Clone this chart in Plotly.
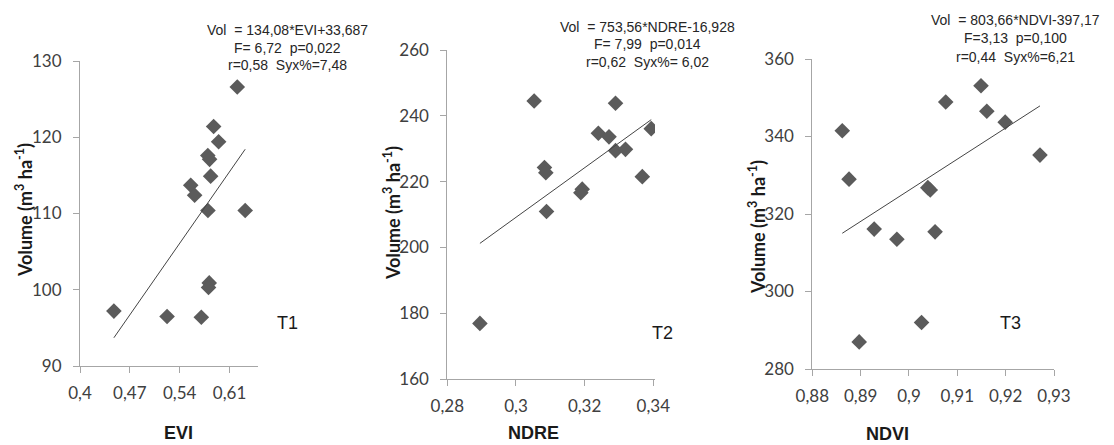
import plotly.graph_objects as go

# ---- Data ----
evi = [0.6209, 0.5877, 0.5947, 0.5795, 0.5820, 0.5835, 0.5555, 0.5610, 0.5797,
       0.6320, 0.5815, 0.5805, 0.4476, 0.5223, 0.5704]
vol_t1 = [126.6, 121.4, 119.4, 117.6, 117.1, 114.9, 113.7, 112.4, 110.4,
          110.4, 100.9, 100.3, 97.2, 96.5, 96.4]

ndre = [0.3053, 0.3290, 0.3240, 0.3271, 0.3290, 0.3319, 0.3394, 0.3368, 0.3083,
        0.3087, 0.3193, 0.3189, 0.3089, 0.2895]
vol_t2 = [244.5, 243.8, 234.7, 233.6, 229.4, 229.8, 236.1, 221.5, 224.3,
          222.7, 217.7, 216.6, 210.9, 176.9]

ndvi = [0.8862, 0.8876, 0.8928, 0.8975, 0.9054, 0.9039, 0.9044, 0.9076, 0.9149,
        0.9161, 0.9199, 0.9271, 0.9026, 0.8897]
vol_t3 = [341.5, 329.0, 316.1, 313.5, 315.4, 326.8, 326.2, 348.9, 353.1,
          346.5, 343.7, 335.2, 292.0, 287.0]

# regression coefficients (slope, intercept) as printed in the chart
coef_t1 = (134.08, 33.687)
coef_t2 = (753.56, -16.928)
coef_t3 = (803.66, -397.17)

x_ticks_t1 = [0.4, 0.47, 0.54, 0.61]
y_ticks_t1 = [90, 100, 110, 120, 130]
x_ticks_t2 = [0.28, 0.30, 0.32, 0.34]
y_ticks_t2 = [160, 180, 200, 220, 240, 260]
x_ticks_t3 = [0.88, 0.89, 0.90, 0.91, 0.92, 0.93]
y_ticks_t3 = [280, 300, 320, 340, 360]

eq_t1 = ["Vol  = 134,08*EVI+33,687", "F= 6,72  p=0,022", "r=0,58  Syx%=7,48"]
eq_t2 = ["Vol  = 753,56*NDRE-16,928", "F= 7,99  p=0,014", "r=0,62  Syx%= 6,02"]
eq_t3 = ["Vol  = 803,66*NDVI-397,17", "F=3,13  p=0,100", "r=0,44  Syx%=6,21"]

W, H = 1114, 445


def fmt(v):
    return f"{v:g}".replace(".", ",")


fig = go.Figure()

panels = [
    (evi, vol_t1, coef_t1, "x", "y"),
    (ndre, vol_t2, coef_t2, "x2", "y2"),
    (ndvi, vol_t3, coef_t3, "x3", "y3"),
]
for xs, ys, (a, b), xa, ya in panels:
    fig.add_trace(go.Scatter(
        x=xs, y=ys, mode="markers", xaxis=xa, yaxis=ya,
        marker=dict(symbol="diamond", size=12, color="#5b5b5b", line=dict(width=0)),
        showlegend=False, hoverinfo="x+y"))
    x0, x1 = min(xs), max(xs)
    fig.add_trace(go.Scatter(
        x=[x0, x1], y=[a * x0 + b, a * x1 + b], mode="lines", xaxis=xa, yaxis=ya,
        line=dict(color="#444444", width=1), showlegend=False, hoverinfo="skip"))

axis_common = dict(showgrid=False, zeroline=False, showline=True, linecolor="#a6a6a6",
                   linewidth=1, ticks="outside", tickcolor="#a6a6a6", ticklen=6,
                   automargin=False,
                   tickfont=dict(family="Lato", size=17, color="#404040"))


def px_dom(a, b, total):
    return [a / total, b / total]


layout_axes = {}
# panel geometry in pixels: (left, right, top, bottom)
geo = [(80, 258, 61, 366), (447.3, 655, 50, 379), (812.3, 1054, 59, 369)]
xranges = [[0.4, 0.65], [0.28, 0.3405], [0.88, 0.93]]
yranges = [[90, 130], [160, 260], [280, 360]]
xticks = [x_ticks_t1, x_ticks_t2, x_ticks_t3]
yticks = [y_ticks_t1, y_ticks_t2, y_ticks_t3]
for i, ((l, r, t, btm), xr, yr, xt, yt) in enumerate(zip(geo, xranges, yranges, xticks, yticks)):
    sfx = "" if i == 0 else str(i + 1)
    layout_axes["xaxis" + sfx] = dict(axis_common, domain=px_dom(l, r, W), range=xr,
                                      tickvals=xt, ticktext=[fmt(v) for v in xt],
                                      anchor="y" + sfx, ticklabelstandoff=6)
    layout_axes["yaxis" + sfx] = dict(axis_common, domain=[(H - btm) / H, (H - t) / H], range=yr,
                                      tickvals=yt, ticktext=[fmt(v) for v in yt],
                                      anchor="x" + sfx, ticklabelstandoff=8)

fig.update_layout(**layout_axes)

ann = []
# equations
for lines, cx, ys in [(eq_t1, 287, [30, 48, 65]), (eq_t2, 647, [27, 44, 62]), (eq_t3, 1015, [20, 38, 57])]:
    for txt, yy in zip(lines, ys):
        ann.append(dict(text=txt, x=cx / W, y=1 - yy / H, xref="paper", yref="paper",
                        showarrow=False, xanchor="center", yanchor="middle",
                        font=dict(family="Liberation Sans", size=14, color="#262626")))
# panel labels
for txt, cx, cy in [("T1", 287, 323), ("T2", 662, 333), ("T3", 1010, 323)]:
    ann.append(dict(text=txt, x=cx / W, y=1 - cy / H, xref="paper", yref="paper",
                    showarrow=False, xanchor="center", yanchor="middle",
                    font=dict(family="Liberation Sans", size=18, color="#1a1a1a")))
# x titles
for txt, cx, cy in [("EVI", 178, 433), ("NDRE", 533, 433), ("NDVI", 887, 434)]:
    ann.append(dict(text="<b>" + txt + "</b>", x=cx / W, y=1 - cy / H, xref="paper", yref="paper",
                    showarrow=False, xanchor="center", yanchor="middle",
                    font=dict(family="Liberation Sans", size=18, color="#1a1a1a")))
# y titles
for cx, cy in [(24, 210), (392, 213), (757, 227)]:
    ann.append(dict(text="<b>Volume (m<sup>3</sup> ha<sup>-1</sup>)</b>", x=cx / W, y=1 - cy / H,
                    xref="paper", yref="paper", showarrow=False, textangle=-90,
                    xanchor="center", yanchor="middle",
                    font=dict(family="Lato", size=18, color="#1a1a1a")))

fig.update_layout(annotations=ann, width=W, height=H, margin=dict(l=0, r=0, t=0, b=0, pad=0),
                  plot_bgcolor="white", paper_bgcolor="white")

fig.write_html("out.html", config={"displayModeBar": False})
